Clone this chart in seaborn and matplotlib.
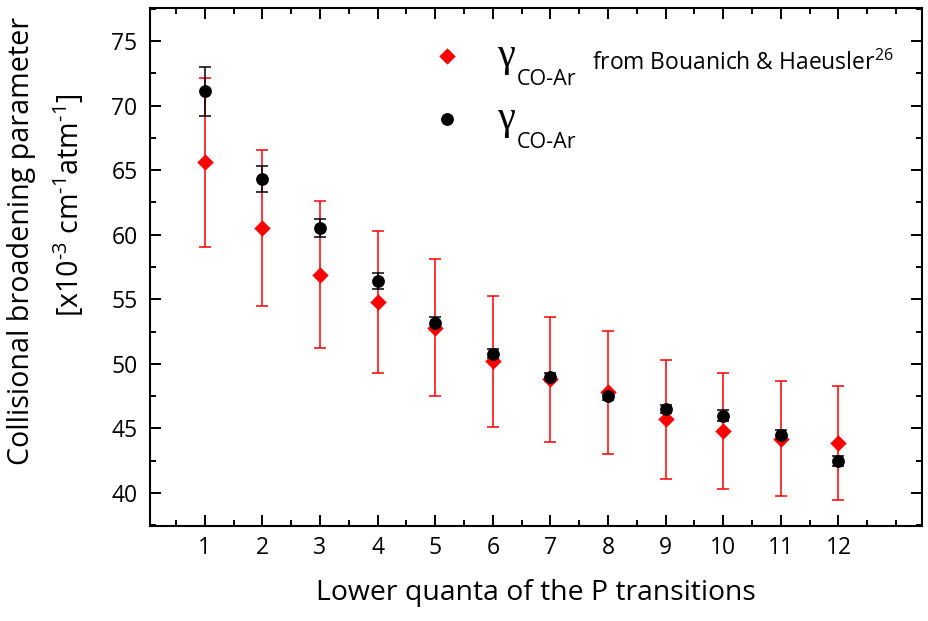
import matplotlib
matplotlib.use("Agg")
import matplotlib.pyplot as plt
import seaborn as sns
import pandas as pd
from matplotlib.ticker import MultipleLocator

# lower quanta J'' of the P transitions
j_lower = [1, 2, 3, 4, 5, 6, 7, 8, 9, 10, 11, 12]

# this work
gamma_this = [71.1, 64.3, 60.5, 56.4, 53.2, 50.8, 49.0, 47.5, 46.5, 46.0, 44.5, 42.5]
err_this = [1.9, 1.0, 0.7, 0.6, 0.45, 0.35, 0.3, 0.3, 0.3, 0.4, 0.35, 0.4]

# Bouanich & Haeusler
gamma_ref = [65.6, 60.5, 56.9, 54.8, 52.8, 50.2, 48.8, 47.8, 45.7, 44.8, 44.2, 43.9]
err_ref = [6.55, 6.05, 5.7, 5.5, 5.3, 5.05, 4.85, 4.75, 4.6, 4.5, 4.45, 4.4]

df_this = pd.DataFrame({"J": j_lower, "gamma": gamma_this, "err": err_this})
df_ref = pd.DataFrame({"J": j_lower, "gamma": gamma_ref, "err": err_ref})

sns.set_style("ticks")
plt.rcParams['font.family'] = ['Open Sans', 'DejaVu Sans']
plt.rcParams['mathtext.fontset'] = 'custom'
plt.rcParams['mathtext.rm'] = 'Open Sans'
plt.rcParams['mathtext.it'] = 'Open Sans:italic'
for k in ['text.color', 'axes.labelcolor', 'xtick.color', 'ytick.color', 'axes.edgecolor']:
    plt.rcParams[k] = 'black'

fig, ax = plt.subplots(figsize=(9.29, 6.21), dpi=100)
fig.subplots_adjust(left=0.1615, right=0.9925, top=0.987, bottom=0.153)

# error bars first, red then black
ax.errorbar(df_ref["J"], df_ref["gamma"], yerr=df_ref["err"], fmt="none",
            ecolor="red", elinewidth=1.1, capsize=4, capthick=1.1, zorder=2)
ax.errorbar(df_this["J"], df_this["gamma"], yerr=df_this["err"], fmt="none",
            ecolor="black", elinewidth=1.1, capsize=4, capthick=1.1, zorder=3)

sns.scatterplot(data=df_ref, x="J", y="gamma", marker="D", color="red", s=70,
                edgecolor="red", linewidth=0, ax=ax, zorder=4, label="\u03b3")
sns.scatterplot(data=df_this, x="J", y="gamma", marker="o", color="black", s=85,
                edgecolor="black", linewidth=0, ax=ax, zorder=5, label="\u03b3")

ax.set_xlim(0.05, 13.45)
ax.set_ylim(37.45, 77.55)
ax.xaxis.set_minor_locator(MultipleLocator(0.5))
ax.yaxis.set_major_locator(MultipleLocator(5))
ax.yaxis.set_minor_locator(MultipleLocator(2.5))
ax.set_xticks(j_lower)

for sp in ax.spines.values():
    sp.set_linewidth(1.5)

ax.tick_params(which="both", direction="in", top=True, right=True,
               labelsize=16.5, width=1.4)
ax.tick_params(which="major", length=8)
ax.tick_params(which="minor", length=4)
ax.tick_params(axis="y", which="major", pad=9)
ax.tick_params(axis="x", which="major", pad=7)

ax.set_xlabel("Lower quanta of the P transitions", fontsize=20.4, labelpad=14)

# y label: two lines, each centred on its own
ax.set_ylabel("Collisional broadening parameter", fontsize=20.6)
ax.yaxis.label.set_verticalalignment("center")
ax.yaxis.set_label_coords(-0.166, 0.55)
ax.text(-0.106, 0.62, r"[x10$^{\text{-}3}$ cm$^{\text{-}1}$atm$^{\text{-}1}$]",
        transform=ax.transAxes, fontsize=20.6, rotation=90,
        ha="center", va="center")

leg = ax.legend(loc="upper left", bbox_to_anchor=(0.3588, 0.942), frameon=False,
                prop={"family": "Liberation Serif", "size": 29},
                handlelength=1.0, handletextpad=0.75, labelspacing=0.64,
                borderpad=0, borderaxespad=0)

# subscripts CO-Ar next to each gamma in the legend
fig.canvas.draw()
for t in leg.get_texts():
    bb = t.get_window_extent()
    ax.annotate("CO-Ar", xy=(bb.x1 + 1, bb.y0 - 10), xycoords="figure pixels",
                fontsize=15.5, ha="left", va="baseline")

ax.text(0.5725, 0.880, r"from Bouanich & Haeusler$^{26}$", transform=ax.transAxes,
        fontsize=16.5, ha="left", va="baseline")

fig.savefig("out.png", dpi=100)
